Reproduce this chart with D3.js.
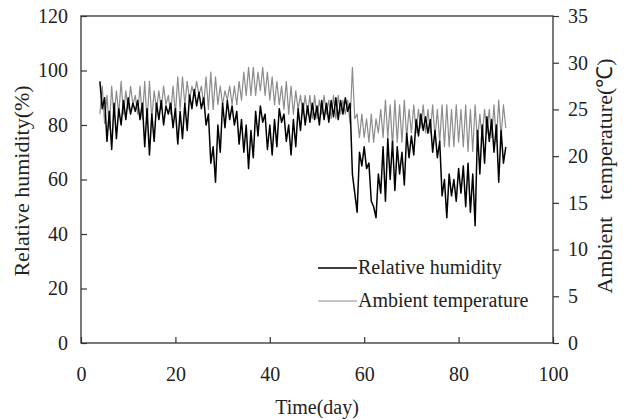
<!DOCTYPE html>
<html>
<head>
<meta charset="utf-8">
<script src="https://cdn.jsdelivr.net/npm/d3@7"></script>
<style>
  html, body { margin: 0; padding: 0; background: #fff; }
  svg { display: block; }
  text { font-family: "Liberation Serif", "Times New Roman", serif; fill: #222; }
</style>
</head>
<body>
<svg id="chart" width="632" height="420"></svg>
<script>
// Readings taken every half day, starting on day 4
const sampleStart = 4;
const sampleStep = 0.5;

// Relative humidity (%)
const humidity = [
  96, 86, 90, 74, 85, 71, 88, 75, 86, 80, 89, 82, 90, 84, 88, 85, 89, 82, 88, 72,
  86, 69, 84, 74, 88, 82, 89, 80, 87, 84, 88, 79, 86, 73, 85, 75, 88, 78, 91, 86,
  93, 87, 92, 86, 90, 80, 84, 66, 72, 59, 80, 70, 88, 79, 89, 82, 87, 80, 85, 73,
  82, 70, 80, 64, 78, 68, 85, 76, 87, 81, 84, 71, 80, 69, 82, 72, 86, 81, 84, 74,
  80, 69, 82, 72, 86, 78, 88, 80, 87, 81, 88, 82, 87, 80, 89, 82, 88, 81, 89, 83,
  90, 82, 89, 84, 90, 85, 88, 62, 55, 48, 70, 65, 72, 64, 66, 52, 50, 46, 62, 55,
  72, 52, 75, 60, 74, 56, 72, 62, 70, 58, 77, 68, 76, 69, 82, 76, 84, 78, 83, 77,
  82, 70, 78, 68, 74, 54, 60, 46, 62, 54, 60, 52, 64, 55, 65, 50, 66, 48, 62, 43,
  78, 62, 80, 66, 83, 74, 82, 70, 80, 59, 78, 66, 72
];

// Ambient temperature (°C)
const temperature = [
  24.5, 27.5, 23.5, 26.5, 23, 27.5, 24, 27, 24.5, 28, 24.5, 27, 25, 27.5, 25.5, 26.5, 24.5, 27.5, 24, 28,
  23.5, 28, 24, 27, 25, 27, 25, 27.5, 25.5, 26.5, 24.5, 27.5, 24.5, 28.5, 25, 28.5, 25.5, 28, 26, 27.5,
  26.5, 28, 26.5, 27.5, 25.5, 28.5, 25, 29, 25, 28.5, 25.5, 27.5, 25.5, 27, 26, 27.5, 25.5, 27.5, 25.5, 28,
  26, 29, 26.5, 29.5, 26.5, 29.5, 26.5, 29, 27, 29.5, 26.5, 29, 26, 28.5, 25.5, 28, 25.5, 27.5, 25, 28,
  24.5, 27.5, 24.5, 27, 25, 26.5, 24.5, 26.5, 24.5, 26.5, 24, 26.5, 24, 26, 24.5, 26.5, 24.5, 26, 24, 26.5,
  24, 26.5, 24.5, 26, 24.5, 26, 23.5, 29.5, 24, 24.5, 22, 24.5, 22, 24, 21.5, 24.5, 21.5, 24, 22.5, 25,
  22, 26, 22, 25.5, 21, 26, 21.5, 25.5, 21.5, 26, 22, 25, 22.5, 25.5, 22.5, 25, 23, 25.5, 22.5, 25,
  22.5, 25.5, 22, 25, 21.5, 25.5, 21, 25.5, 21, 25, 21, 25.5, 21.5, 25, 21, 25.5, 20.5, 25, 20.5, 25.5,
  21.5, 24.5, 22, 25, 22.5, 25, 22, 25.5, 21.5, 26, 22, 25.5, 23
];

const xTicks = [0, 20, 40, 60, 80, 100];
const humidityTicks = [0, 20, 40, 60, 80, 100, 120];
const temperatureTicks = [0, 5, 10, 15, 20, 25, 30, 35];

const days = humidity.map((_, i) => sampleStart + i * sampleStep);

const plot = { left: 81, right: 553, top: 16, bottom: 343 };
const svg = d3.select("#chart");

const x = d3.scaleLinear().domain([0, 100]).range([plot.left, plot.right]);
const yRH = d3.scaleLinear().domain([0, 120]).range([plot.bottom, plot.top]);
const yT = d3.scaleLinear().domain([0, 35]).range([plot.bottom, plot.top]);

// Frame
svg.append("rect")
  .attr("x", plot.left).attr("y", plot.top)
  .attr("width", plot.right - plot.left).attr("height", plot.bottom - plot.top)
  .attr("fill", "none").attr("stroke", "#333").attr("stroke-width", 1.3);

function styleAxis(g) {
  g.select(".domain").remove();
  g.selectAll(".tick line").attr("stroke", "#333").attr("stroke-width", 1.2);
  g.selectAll(".tick text")
    .style("font-family", '"Liberation Serif", "Times New Roman", serif')
    .style("font-size", "20px").attr("fill", "#222");
}

// Bottom axis, ticks pointing into the plot
svg.append("g")
  .attr("transform", `translate(0,${plot.bottom})`)
  .call(d3.axisBottom(x).tickValues(xTicks).tickSize(-6).tickPadding(24))
  .call(styleAxis);

// Left axis, ticks pointing into the plot
svg.append("g")
  .attr("transform", `translate(${plot.left},0)`)
  .call(d3.axisLeft(yRH).tickValues(humidityTicks).tickSize(-6).tickPadding(13))
  .call(styleAxis);

// Right axis, ticks pointing outward
svg.append("g")
  .attr("transform", `translate(${plot.right},0)`)
  .call(d3.axisRight(yT).tickValues(temperatureTicks).tickSize(6).tickPadding(9))
  .call(styleAxis);

// Series
const lineRH = d3.line().x((d, i) => x(days[i])).y(d => yRH(d));
const lineT = d3.line().x((d, i) => x(days[i])).y(d => yT(d));

svg.append("path").datum(temperature)
  .attr("d", lineT).attr("fill", "none")
  .attr("stroke", "#8c8c8c").attr("stroke-width", 1.2).attr("stroke-linejoin", "round");

svg.append("path").datum(humidity)
  .attr("d", lineRH).attr("fill", "none")
  .attr("stroke", "#000").attr("stroke-width", 1.5).attr("stroke-linejoin", "round");

// Legend
const legend = [
  { label: "Relative humidity", color: "#000", width: 1.5, y: 268 },
  { label: "Ambient temperature", color: "#8c8c8c", width: 1.2, y: 301 }
];
const lg = svg.append("g");
legend.forEach(d => {
  lg.append("line")
    .attr("x1", 318).attr("x2", 357).attr("y1", d.y).attr("y2", d.y)
    .attr("stroke", d.color).attr("stroke-width", d.width);
  lg.append("text")
    .attr("x", 358).attr("y", d.y + 6)
    .style("font-size", "20px")
    .text(d.label);
});

// Axis titles
svg.append("text")
  .attr("x", (plot.left + plot.right) / 2).attr("y", 414)
  .attr("text-anchor", "middle").style("font-size", "20px")
  .text("Time(day)");

svg.append("text")
  .attr("transform", `translate(29,181) rotate(-90)`)
  .attr("text-anchor", "middle").style("font-size", "22px")
  .text("Relative humidity(%)");

svg.append("text")
  .attr("transform", `translate(612,176) rotate(-90)`)
  .attr("text-anchor", "middle").style("font-size", "22px")
  .attr("xml:space", "preserve")
  .text("Ambient   temperature(℃)");
</script>
</body>
</html>
